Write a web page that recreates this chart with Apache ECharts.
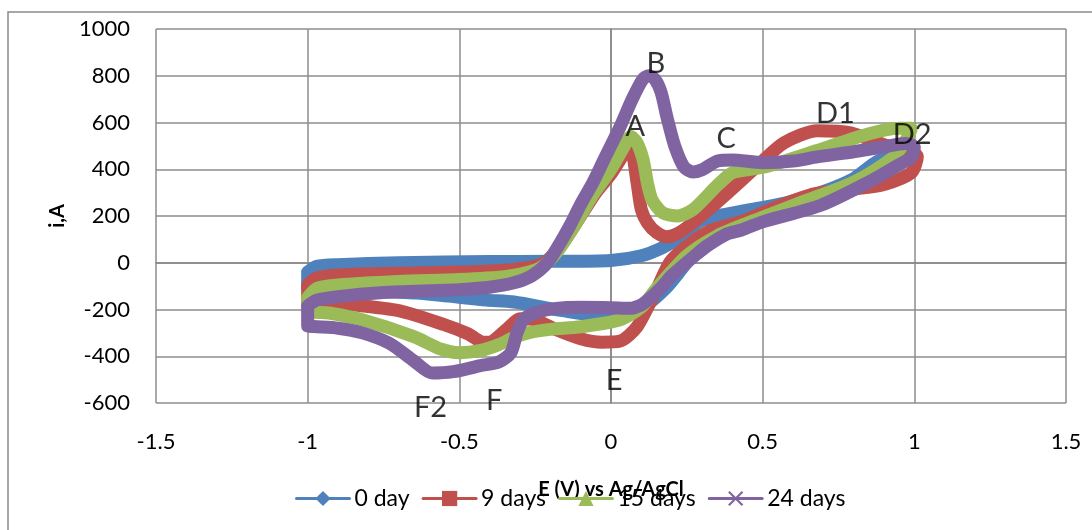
<!DOCTYPE html>
<html lang="en">

<head>
    <meta charset="UTF-8">
    <title>CV</title>
    <script src="https://cdn.jsdelivr.net/npm/echarts@6/dist/echarts.min.js"></script>
    <style>
        body { margin: 0; background: #fff; }
    </style>
</head>

<body>
    <div id="main" style="width: 1092px;height:530px;"></div>
    <script type="text/javascript">
        // series names
        const names = ['0 day', '9 days', '15 days', '24 days'];

        // each loop: forward sweep -1 -> 1, then back to -1   [E (V), i]
        const day0 = [
            [-1.0, -40], [-0.97, -15], [-0.9, -8], [-0.7, 0], [-0.4, 5], [-0.2, 6], [0.0, 10], [0.1, 30],
            [0.17, 65], [0.23, 110], [0.29, 175], [0.35, 200], [0.46, 227], [0.58, 258], [0.69, 300],
            [0.8, 360], [0.88, 435], [0.96, 465], [0.98, 460],
            [0.95, 435], [0.85, 360], [0.7, 290], [0.55, 230], [0.42, 175], [0.33, 110], [0.25, 0],
            [0.18, -110], [0.1, -195], [0.0, -230], [-0.16, -205], [-0.32, -168], [-0.41, -160],
            [-0.64, -130], [-0.85, -118], [-1.0, -110], [-1.0, -40]
        ];
        const day9 = [
            [-1.0, -95], [-0.97, -65], [-0.9, -52], [-0.7, -45], [-0.5, -40], [-0.35, -32], [-0.27, -20],
            [-0.22, 0], [-0.18, 50], [-0.14, 120], [-0.1, 200], [-0.05, 300], [0.0, 380], [0.03, 440],
            [0.053, 490], [0.07, 470], [0.086, 342], [0.1, 227], [0.12, 171], [0.15, 130], [0.185, 111],
            [0.22, 125], [0.27, 171], [0.37, 282], [0.48, 411], [0.57, 513], [0.68, 565], [0.79, 556],
            [0.9, 505], [0.98, 480], [1.01, 455],
            [0.99, 385], [0.9, 335], [0.8, 315], [0.67, 295], [0.55, 240], [0.43, 176], [0.32, 133],
            [0.2, 13], [0.15, -115], [0.086, -274], [0.03, -335], [-0.03, -340], [-0.1, -325],
            [-0.18, -287], [-0.25, -245], [-0.3, -240], [-0.34, -280], [-0.39, -335], [-0.42, -340],
            [-0.47, -305], [-0.55, -265], [-0.7, -205], [-0.85, -180], [-0.95, -170], [-1.0, -175], [-1.0, -95]
        ];
        const day15 = [
            [-1.0, -150], [-0.97, -110], [-0.9, -95], [-0.7, -80], [-0.5, -72], [-0.35, -60], [-0.27, -40],
            [-0.22, -10], [-0.17, 60], [-0.12, 160], [-0.06, 290], [0.0, 400], [0.04, 490], [0.065, 540],
            [0.085, 515], [0.106, 440], [0.12, 342], [0.135, 270], [0.17, 214], [0.22, 200], [0.27, 227],
            [0.35, 330], [0.4, 385], [0.51, 411], [0.68, 480], [0.845, 550], [0.95, 575], [0.99, 575],
            [0.98, 540],
            [0.93, 450], [0.8, 345], [0.62, 255], [0.45, 170], [0.35, 115], [0.25, 30], [0.15, -110],
            [0.1, -190], [0.03, -244], [-0.1, -274], [-0.2, -285], [-0.27, -299], [-0.32, -320],
            [-0.37, -350], [-0.43, -375], [-0.5, -385], [-0.56, -370], [-0.65, -316], [-0.82, -244],
            [-0.93, -215], [-1.0, -205], [-1.0, -150]
        ];
        const day24 = [
            [-1.0, -185], [-0.97, -160], [-0.9, -145], [-0.76, -128], [-0.6, -120], [-0.5, -115],
            [-0.4, -105], [-0.32, -86], [-0.26, -55], [-0.21, 0], [-0.17, 80], [-0.135, 160], [-0.1, 250],
            [-0.06, 342], [-0.02, 450], [0.03, 582], [0.07, 700], [0.105, 785], [0.125, 800], [0.145, 785],
            [0.165, 730], [0.185, 620], [0.21, 500], [0.24, 411], [0.27, 388], [0.3, 398], [0.35, 435],
            [0.4, 440], [0.5, 428], [0.6, 435], [0.68, 453], [0.8, 475], [0.9, 496], [0.97, 510], [1.0, 495],
            [0.99, 450], [0.95, 420], [0.845, 342], [0.69, 245], [0.5, 175], [0.43, 140], [0.38, 122],
            [0.32, 75], [0.29, 45], [0.2, -55], [0.17, -100], [0.13, -150], [0.1, -180], [0.06, -195],
            [0.0, -192], [-0.1, -190], [-0.18, -195], [-0.25, -215], [-0.29, -245], [-0.31, -300],
            [-0.33, -385], [-0.37, -425], [-0.43, -440], [-0.52, -466], [-0.59, -472], [-0.65, -420],
            [-0.73, -345], [-0.82, -300], [-0.9, -280], [-0.98, -273], [-1.0, -270], [-1.0, -185]
        ];

        // peak letters written on the chart
        const peakNames = ['A', 'B', 'C', 'D1', 'D2', 'E', 'F', 'F2'];
        const peakPos = [
            [0.08, 582], [0.148, 850], [0.38, 530], [0.74, 637], [0.993, 548],
            [0.01, -505], [-0.385, -590], [-0.595, -618]
        ];

        const colors = ['#4F81BD', '#C0504D', '#9BBB59', '#8064A2'];
        const symbols = ['diamond', 'rect', 'triangle',
            'path://M0,1L1,0L5,4L9,0L10,1L6,5L10,9L9,10L5,6L1,10L0,9L4,5Z'];
        const loops = [day0, day9, day15, day24];

        var myChart = echarts.init(document.getElementById('main'));

        var series = loops.map((d, i) => ({
            name: names[i],
            type: 'line',
            data: d,
            smooth: 0.25,
            symbol: symbols[i],
            symbolSize: 14,
            showSymbol: false,
            color: colors[i],
            lineStyle: { width: 13, color: colors[i], cap: 'round', join: 'round' }
        }));

        series.push({
            type: 'scatter',
            data: peakPos.map((p, i) => ({ value: p, name: peakNames[i] })),
            symbolSize: 0,
            clip: false,
            silent: true,
            z: 10,
            label: {
                show: true,
                position: 'inside',
                formatter: p => p.name,
                fontFamily: 'Lato',
                fontSize: 29,
                color: '#000'
            }
        });

        var option = {
            animation: false,
            textStyle: { fontFamily: 'Lato' },
            graphic: [{
                type: 'rect',
                shape: { x: 8, y: 12, width: 1200, height: 600 },
                style: { fill: null, stroke: '#8a8a8a', lineWidth: 1.5 },
                silent: true
            }],
            grid: { left: 156, right: 26, top: 29, bottom: 127 },
            legend: {
                data: names,
                left: 290,
                top: 482,
                itemWidth: 53,
                itemHeight: 19,
                itemGap: 12,
                lineStyle: { width: 3 },
                textStyle: { fontSize: 23, color: '#000', fontFamily: 'Lato' }
            },
            xAxis: {
                type: 'value',
                min: -1.5,
                max: 1.5,
                interval: 0.5,
                name: 'E (V) vs Ag/AgCl',
                nameLocation: 'middle',
                nameGap: 77,
                nameTextStyle: { fontSize: 20, fontWeight: 'bold', color: '#000' },
                axisLine: { lineStyle: { color: '#868686', width: 1.5 } },
                axisTick: { show: false },
                axisLabel: { fontSize: 22, color: '#000', margin: 28 },
                splitLine: { lineStyle: { color: '#8c8c8c', width: 1.5 } }
            },
            yAxis: {
                type: 'value',
                min: -600,
                max: 1000,
                interval: 200,
                name: 'i,A',
                nameLocation: 'middle',
                nameRotate: 90,
                nameGap: 88,
                nameTextStyle: { fontSize: 20, fontWeight: 'bold', color: '#000' },
                axisLine: { show: true, lineStyle: { color: '#868686', width: 1.5 } },
                axisTick: { show: false },
                axisLabel: { fontSize: 22, color: '#000', margin: 26, formatter: v => String(v) },
                splitLine: { lineStyle: { color: '#8c8c8c', width: 1.5 } }
            },
            series: series
        };

        myChart.setOption(option);
    </script>
</body>

</html>
